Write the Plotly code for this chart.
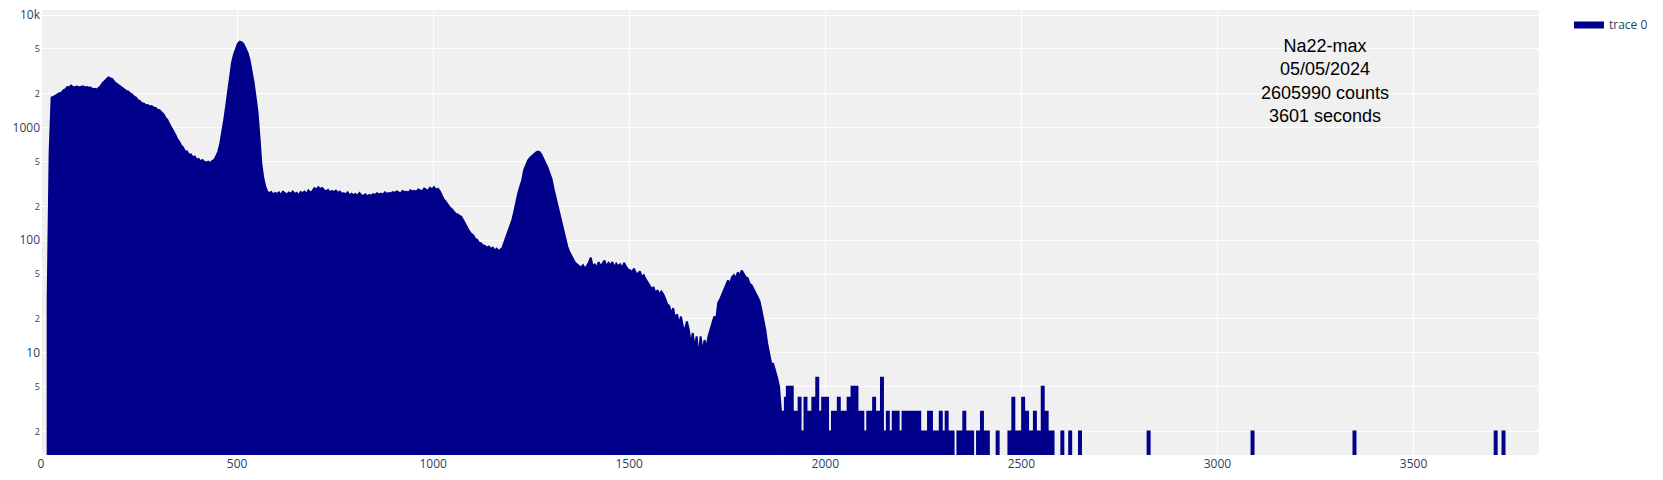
import plotly.graph_objects as go

FIRST_KEV = 2
BIN_KEV = 5
LAST_KEV = 3817

# counts per 5 keV bin, 2 .. 1887 keV
counts_body = [
    0, 0, 0, 30, 600, 1850, 1880, 1930, 1950, 2020,
    2040, 2150, 2190, 2290, 2280, 2360, 2270, 2300, 2320, 2280,
    2310, 2330, 2280, 2300, 2270, 2260, 2190, 2210, 2170, 2240,
    2330, 2480, 2590, 2710, 2790, 2740, 2700, 2540, 2460, 2380,
    2340, 2250, 2200, 2120, 2100, 2010, 1980, 1890, 1850, 1760,
    1720, 1650, 1640, 1580, 1590, 1545, 1555, 1510, 1495, 1440,
    1430, 1370, 1320, 1230, 1175, 1080, 1010, 935, 870, 795,
    755, 695, 670, 615, 618, 575, 580, 545, 555, 518,
    528, 502, 515, 494, 492, 499, 485, 508, 518, 560,
    610, 720, 890, 1160, 1540, 2100, 2850, 3750, 4450, 5050,
    5550, 5800, 5720, 5480, 5100, 4600, 3950, 3280, 2540, 1890,
    1390, 830, 470, 355, 298, 270, 262, 268, 255, 263,
    258, 266, 252, 270, 261, 255, 266, 259, 271, 257,
    264, 250, 268, 262, 270, 258, 277, 265, 272, 290,
    282, 296, 285, 291, 278, 272, 280, 266, 274, 268,
    276, 263, 271, 258, 262, 255, 266, 250, 259, 252,
    258, 248, 262, 251, 247, 256, 245, 253, 249, 257,
    252, 262, 255, 260, 254, 266, 258, 263, 261, 268,
    263, 272, 266, 261, 274, 268, 270, 265, 278, 271,
    275, 269, 283, 276, 272, 288, 280, 275, 292, 282,
    296, 280, 286, 272, 250, 230, 220, 206, 196, 190,
    182, 172, 170, 164, 161, 150, 138, 127, 120, 114,
    111, 103, 101, 95, 94, 90, 89, 86, 88, 84,
    86, 81, 84, 80, 83, 86, 97, 108, 121, 137,
    152, 180, 220, 262, 300, 340, 420, 470, 510, 540,
    560, 585, 600, 612, 605, 565, 525, 480, 440, 390,
    350, 285, 240, 210, 178, 148, 122, 103, 88, 79,
    72, 68, 63, 61, 58, 57, 60, 56, 59, 63,
    70, 58, 61, 57, 64, 59, 62, 66, 58, 63,
    60, 64, 57, 62, 59, 61, 56, 63, 58, 55,
    54, 52, 56, 51, 50, 53, 47, 49, 45, 42,
    40, 37, 38, 34, 36, 33, 35, 33, 30, 27,
    26, 22, 25, 20, 22, 18, 21, 17, 16, 19,
    16, 12, 15, 11, 14, 9, 14, 10, 13, 11,
    14, 16, 18, 21, 20, 28, 30, 33, 37, 40,
    44, 41, 47, 49, 46, 52, 48, 54, 50, 47,
    46, 41, 40, 37, 35, 32, 29, 24, 20, 16,
    12, 10, 8, 8, 7, 6, 5, 3,
]

# counts per 5 keV bin, 1892 .. 2657 keV
counts_tail = [
    3, 4, 5, 3, 5, 2, 3, 3, 4, 2,
    2, 4, 3, 3, 1, 4, 4, 6, 2, 3,
    4, 3, 4, 2, 1, 3, 3, 2, 4, 3,
    3, 2, 3, 4, 2, 5, 3, 5, 2, 3,
    3, 1, 2, 3, 3, 2, 4, 3, 2, 3,
    6, 2, 1, 3, 2, 2, 3, 3, 3, 2,
    2, 3, 3, 1, 3, 2, 3, 3, 2, 3,
    2, 2, 1, 2, 3, 3, 2, 0, 2, 2,
    3, 2, 0, 3, 2, 0, 2, 0, 0, 2,
    2, 0, 3, 0, 2, 0, 2, 0, 0, 2,
    0, 3, 2, 0, 2, 0, 0, 0, 0, 2,
    0, 0, 0, 0, 0, 2, 2, 4, 2, 2,
    2, 2, 4, 3, 3, 2, 2, 2, 3, 2,
    2, 0, 5, 2, 3, 2, 2, 2, 0, 0,
    0, 0, 2, 0, 0, 0, 2, 0, 0, 0, 0, 2, 0, 0,
]

# isolated high-energy counts
far_kev = [2822, 3087, 3347, 3707, 3727]
far_counts = [2, 2, 2, 2, 2]

annotation_lines = ["Na22-max", "05/05/2024", "2605990 counts", "3601 seconds"]

energy = list(range(FIRST_KEV, LAST_KEV + 1, BIN_KEV))
counts = [0] * len(energy)
seq = counts_body + counts_tail
counts[:len(seq)] = seq
for e, c in zip(far_kev, far_counts):
    counts[energy.index(e)] = c

COLOR = "darkblue"
n_body = len(counts_body)

fig = go.Figure()
# continuum and peaks
fig.add_trace(go.Scatter(
    x=energy[:n_body], y=counts[:n_body], mode="lines", fill="tozeroy",
    name="trace 0",
    line=dict(color=COLOR, width=2),
    fillcolor=COLOR,
))
# sparse high-energy tail, drawn as steps
fig.add_trace(go.Scatter(
    x=energy[n_body - 1:], y=counts[n_body - 1:], mode="lines", fill="tozeroy",
    name="trace 0", showlegend=False,
    line=dict(color=COLOR, width=2, shape="hv"),
    fillcolor=COLOR,
))

fig.add_annotation(
    x=0.857, y=0.84, xref="paper", yref="paper",
    text="<br>".join(annotation_lines), showarrow=False,
    font=dict(family="Arial, Liberation Sans, sans-serif", size=18, color="black"),
    xanchor="center", yanchor="middle",
)

fig.update_layout(
    template="plotly",
    showlegend=True,
    plot_bgcolor="#f0f0f0",
    paper_bgcolor="white",
    margin=dict(l=33, r=116, t=2, b=17),
    xaxis=dict(range=[0, 3820], gridcolor="white", automargin=False,
               ticklabeloverflow="allow"),
    yaxis=dict(type="log", range=[0.093, 4.045], gridcolor="white",
               automargin=False, ticklabeloverflow="allow"),
)

fig.write_html("out.html")
